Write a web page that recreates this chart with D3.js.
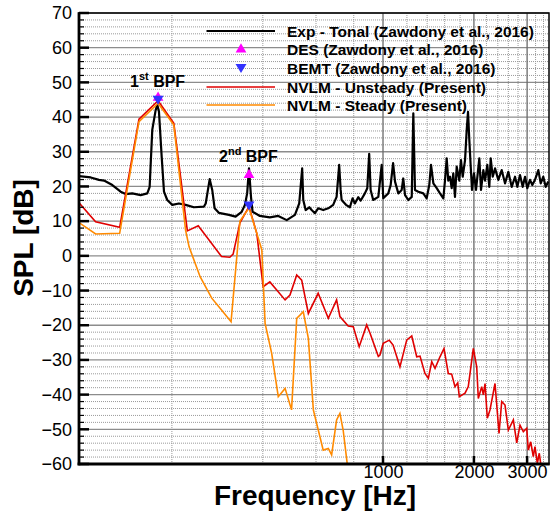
<!DOCTYPE html>
<html>
<head>
<meta charset="utf-8">
<script src="https://cdnjs.cloudflare.com/ajax/libs/d3/7.8.5/d3.min.js"></script>
<style>
body { margin: 0; background: #fff; }
svg { display: block; font-family: "Liberation Sans", Arial, sans-serif; }
</style>
</head>
<body>
<svg id="chart"></svg>
<script>
// Exp - Tonal (Zawdony et al., 2016)
var expFreq = [98.5,107.7,114.7,119.2,127,135.3,140.6,147.8,157.6,165.8,
168.8,172.2,176.7,179,181.2,185,188.3,193,200.6,211,
222,236.6,255.4,258.8,266.8,272,277,286,309,325,
340.5,349,355,360,365.5,370,391,422,450,480,
511,528,540,544.5,554.5,570,580.5,595,610,634,
659,684,702,716,724,729.5,754,777,793,807,
828,843,871,887,900,910,928,965,990,1002,
1041,1060,1080,1096,1124,1153,1167,1183,1213,1245,
1260,1276,1309,1360,1395,1423,1442,1468,1506,1544,
1584,1604,1625,1645,1667,1688,1709,1731,1754,1789,
1812,1836,1869,1893,1912,1931,1952,1971,2001,2032,
2084,2111,2149,2177,2215,2249,2273,2308,2349,2409,
2472,2535,2600,2668,2736,2784,2842,2901,2953,3005,
3067,3122,3186,3268,3328,3394,3457,3526];
var expSpl = [23.0,22.6,21.9,21.7,20.4,18.5,17.8,18.0,17.5,18.0,
19.9,36.3,42.0,43.5,41.6,28.6,18.5,16.1,14.7,15.1,
14.7,14.0,14.2,15.1,22.1,19.0,13.7,12.4,11.8,11.3,
12.7,14.7,18.0,25.2,17.0,12.7,11.5,11.1,11.5,10.3,
11.8,15.1,25.2,16.1,13.2,14.0,13.2,12.3,13.7,13.2,
13.7,14.7,17.0,26.2,19.0,16.1,14.7,14.0,16.6,15.1,
16.9,15.9,18.0,19.5,29.4,19.0,16.1,17.0,26.2,16.6,
18.0,20.4,26.7,21.4,18.0,19.0,22.3,17.5,16.1,17.0,
41.1,19.0,18.5,18.0,16.6,20.4,26.2,20.9,19.5,18.0,
16.6,21.7,28.1,21.7,22.8,19.5,23.8,17.0,25.7,21.7,
27.6,22.8,27.6,36.3,41.5,33.4,25.7,19.0,23.8,19.0,
28.1,19.0,24.7,21.7,26.2,19.9,28.1,22.8,25.2,21.9,
24.7,20.9,24.2,19.9,22.8,19.9,23.3,19.9,22.8,19.5,
21.9,20.4,21.9,24.7,20.9,22.8,19.9,21.4];

// NVLM - Unsteady (Present)
var unsteadyFreq = [98.5,111.8,134.3,155.6,180,203,225,244.5,292,311,
319,336,360,382,401,422,444,474,492,518,
538,566,610,659,702,720,767,797,834,883,
906,965,977,1002,1049,1080,1138,1198,1245,1293,
1326,1377,1413,1450,1487,1544,1592,1645,1688,1731,
1768,1789,1869,1916,1991,2043,2068,2122,2149,2177,
2215,2261,2349,2422,2472,2535,2600,2701,2772,2842,
2915,2991,3028,3084,3145,3186,3243,3292,3353];
var unsteadySpl = [15.3,9.8,8.2,39.4,44.7,38.2,7.2,8.7,-0.2,-0.4,
0.5,9.5,14.2,6.5,-8.9,-7.5,-9.8,-12.7,-11.3,-5.5,
-7.0,-16.6,-10.8,-18.0,-12.7,-17.5,-20.2,-20.4,-26.2,-19.9,
-22.3,-29.0,-28.6,-25.2,-24.3,-25.7,-32.0,-24.3,-23.1,-29.1,
-28.9,-33.9,-35.3,-30.5,-32.4,-29.1,-26.7,-33.9,-34.1,-37.7,
-36.6,-40.6,-39.6,-37.7,-26.7,-32.0,-41.1,-37.7,-40.1,-36.8,
-46.8,-44.4,-36.8,-51.2,-42.0,-43.0,-50.2,-47.3,-53.9,-48.8,
-50.7,-49.7,-56.0,-53.6,-57.9,-55.0,-59.8,-56.9,-62];

// NVLM - Steady (Present)
var steadyFreq = [98.5,111.8,134.3,155.6,180,203,222,228,248,271,
292,314,336,360,382,397,407,428,450,474,
498,518,531,544.5,566,588,634,659,676,702,
720,738,761,770];
var steadySpl = [9.6,6.3,6.5,38.7,44.0,37.7,7.4,2.6,-6.0,-12.2,
-15.6,-19.0,10.0,13.8,6.5,1.7,-19.5,-28.1,-40.6,-38.2,
-44.4,-18.0,-17.1,-16.1,-23.8,-44.4,-56.0,-55.5,-57.4,-47.3,
-45.4,-50.2,-59.8,-64];

// DES / BEMT at the blade passing frequencies
var desFreq = [180, 360];
var desSpl = [45.6, 23.3];
var bemtFreq = [180, 360];
var bemtSpl = [45.0, 14.5];

var yTicks = [-60,-50,-40,-30,-20,-10,0,10,20,30,40,50,60,70];
var xTicks = [1000, 2000, 3000];
var legendLabels = ["Exp - Tonal (Zawdony et al., 2016)", "DES (Zawdony et al., 2016)",
  "BEMT (Zawdony et al., 2016)", "NVLM - Unsteady (Present)", "NVLM - Steady (Present)"];

var margins = {top: 13, left: 79, bottom: 47, right: 3};
var width = 552 - margins.left - margins.right;
var height = 511 - margins.top - margins.bottom;

var svg = d3.select("#chart")
  .attr("width", 552)
  .attr("height", 511);

var xScale = d3.scaleLog().domain([98.5, 3545]).range([0, width]);
var yScale = d3.scaleLinear().domain([-60, 70]).range([height, 0]);

var g = svg.append("g")
  .attr("transform", "translate(" + margins.left + "," + margins.top + ")");

g.append("clipPath").attr("id", "plotClip")
  .append("rect").attr("width", width).attr("height", height);

// grid: minor every 2 dB / 200 Hz dotted, major solid
var minorY = d3.range(-58, 70, 2).filter(function(v){ return v % 10 !== 0; });
var minorX = d3.range(200, 3545, 200).filter(function(v){ return v % 1000 !== 0; });

var grid = g.append("g").attr("id", "gridG");
grid.selectAll("line.minY").data(minorY).enter().append("line")
  .attr("x1", 0).attr("x2", width)
  .attr("y1", function(d){ return yScale(d); }).attr("y2", function(d){ return yScale(d); })
  .style("stroke", "#9a9a9a").style("stroke-width", 1).style("stroke-dasharray", "1,1");
grid.selectAll("line.minX").data(minorX).enter().append("line")
  .attr("y1", 0).attr("y2", height)
  .attr("x1", function(d){ return xScale(d); }).attr("x2", function(d){ return xScale(d); })
  .style("stroke", "#9a9a9a").style("stroke-width", 1).style("stroke-dasharray", "1,1");
grid.selectAll("line.majY").data(yTicks).enter().append("line")
  .attr("x1", 0).attr("x2", width)
  .attr("y1", function(d){ return yScale(d); }).attr("y2", function(d){ return yScale(d); })
  .style("stroke", "#8c8c8c").style("stroke-width", 1.3);
grid.selectAll("line.majX").data(xTicks).enter().append("line")
  .attr("y1", 0).attr("y2", height)
  .attr("x1", function(d){ return xScale(d); }).attr("x2", function(d){ return xScale(d); })
  .style("stroke", "#6a6a6a").style("stroke-width", 1.3);

// lines
function series(fr, sp) {
  return fr.map(function(f, i){ return {f: f, v: sp[i]}; });
}
var line = d3.line()
  .x(function(d){ return xScale(d.f); })
  .y(function(d){ return yScale(d.v); });

var linesG = g.append("g").attr("clip-path", "url(#plotClip)");
linesG.append("path").datum(series(expFreq, expSpl))
  .attr("d", line).style("fill", "none").style("stroke", "#000").style("stroke-width", 2.2)
  .style("stroke-linejoin", "round");
linesG.append("path").datum(series(unsteadyFreq, unsteadySpl))
  .attr("d", line).style("fill", "none").style("stroke", "#e00000").style("stroke-width", 1.6);
linesG.append("path").datum(series(steadyFreq, steadySpl))
  .attr("d", line).style("fill", "none").style("stroke", "#ff8a00").style("stroke-width", 1.6);

var triUp = d3.symbol().type(d3.symbolTriangle).size(50);
function triDown(px, py) {
  return "M" + (px - 5.5) + "," + (py - 4) + "L" + (px + 5.5) + "," + (py - 4) + "L" + px + "," + (py + 5) + "Z";
}
g.selectAll("path.des").data(series(desFreq, desSpl)).enter().append("path")
  .attr("d", triUp)
  .attr("transform", function(d){ return "translate(" + xScale(d.f) + "," + yScale(d.v) + ")"; })
  .style("fill", "#ff00ff");
g.selectAll("path.bemt").data(series(bemtFreq, bemtSpl)).enter().append("path")
  .attr("d", function(d){ return triDown(xScale(d.f), yScale(d.v)); })
  .style("fill", "#3333ff");

// axes
var yAxis = d3.axisLeft(yScale).tickValues(yTicks).tickSize(0).tickPadding(7);
var yAxisG = g.append("g").attr("id", "yAxisG").call(yAxis);
yAxisG.select(".domain").remove();
yAxisG.selectAll("text").style("font-size", "18px").style("fill", "#000");

var xAxis = d3.axisBottom(xScale).tickValues(xTicks).tickFormat(d3.format("d")).tickSize(0).tickPadding(1);
var xAxisG = g.append("g").attr("id", "xAxisG").attr("transform", "translate(0," + height + ")").call(xAxis);
xAxisG.select(".domain").remove();
xAxisG.selectAll("text").style("font-size", "18px").style("fill", "#000");

// tick marks
g.selectAll("line.ytk").data(yTicks).enter().append("line")
  .attr("x1", 0).attr("x2", 10)
  .attr("y1", function(d){ return yScale(d); }).attr("y2", function(d){ return yScale(d); })
  .style("stroke", "#000").style("stroke-width", 2.5);
g.selectAll("line.ymtk").data(minorY).enter().append("line")
  .attr("x1", 0).attr("x2", 5)
  .attr("y1", function(d){ return yScale(d); }).attr("y2", function(d){ return yScale(d); })
  .style("stroke", "#000").style("stroke-width", 1.2);
g.selectAll("line.xtk").data(xTicks).enter().append("line")
  .attr("y1", height).attr("y2", height - 8)
  .attr("x1", function(d){ return xScale(d); }).attr("x2", function(d){ return xScale(d); })
  .style("stroke", "#000").style("stroke-width", 2.5);

// frame
g.append("rect").attr("width", width).attr("height", height)
  .style("fill", "none").style("stroke", "#000").style("stroke-width", 1.5);
g.append("line").attr("x1", 0).attr("x2", 0).attr("y1", -0.7).attr("y2", height + 1.3)
  .style("stroke", "#000").style("stroke-width", 2.8);
g.append("line").attr("x1", -1.4).attr("x2", width + 0.7).attr("y1", height).attr("y2", height)
  .style("stroke", "#000").style("stroke-width", 2.8);

// titles
svg.append("text").attr("x", 315).attr("y", 505).attr("text-anchor", "middle")
  .style("font-size", "28px").style("font-weight", "bold").text("Frequency [Hz]");
svg.append("text").attr("transform", "translate(33,238) rotate(-90)").attr("text-anchor", "middle")
  .style("font-size", "28px").style("font-weight", "bold").text("SPL [dB]");

// BPF annotations
var bpf1 = svg.append("text").attr("x", 130).attr("y", 87)
  .style("font-size", "16px").style("font-weight", "bold");
bpf1.append("tspan").text("1");
bpf1.append("tspan").attr("dy", -7).style("font-size", "11px").text("st");
bpf1.append("tspan").attr("dy", 7).text(" BPF");
var bpf2 = svg.append("text").attr("x", 219).attr("y", 162)
  .style("font-size", "16px").style("font-weight", "bold");
bpf2.append("tspan").text("2");
bpf2.append("tspan").attr("dy", -7).style("font-size", "11px").text("nd");
bpf2.append("tspan").attr("dy", 7).text(" BPF");

// legend
var legendG = svg.append("g").attr("id", "legendG");
var rowY = [31, 49.5, 68, 87, 105];
legendG.selectAll("text").data(legendLabels).enter().append("text")
  .attr("x", 287).attr("y", function(d, i){ return rowY[i] + 5.5; })
  .style("font-size", "15.5px").style("font-weight", "bold").text(function(d){ return d; });
var lineStyles = [{i: 0, c: "#000", w: 2.2}, {i: 3, c: "#e00000", w: 1.6}, {i: 4, c: "#ff8a00", w: 1.6}];
legendG.selectAll("line").data(lineStyles).enter().append("line")
  .attr("x1", 206.5).attr("x2", 275)
  .attr("y1", function(d){ return rowY[d.i]; }).attr("y2", function(d){ return rowY[d.i]; })
  .style("stroke", function(d){ return d.c; }).style("stroke-width", function(d){ return d.w; });
legendG.append("path").attr("d", triUp).attr("transform", "translate(241," + rowY[1] + ")").style("fill", "#ff00ff");
legendG.append("path").attr("d", triDown(241, rowY[2])).style("fill", "#3333ff");
</script>
</body>
</html>
